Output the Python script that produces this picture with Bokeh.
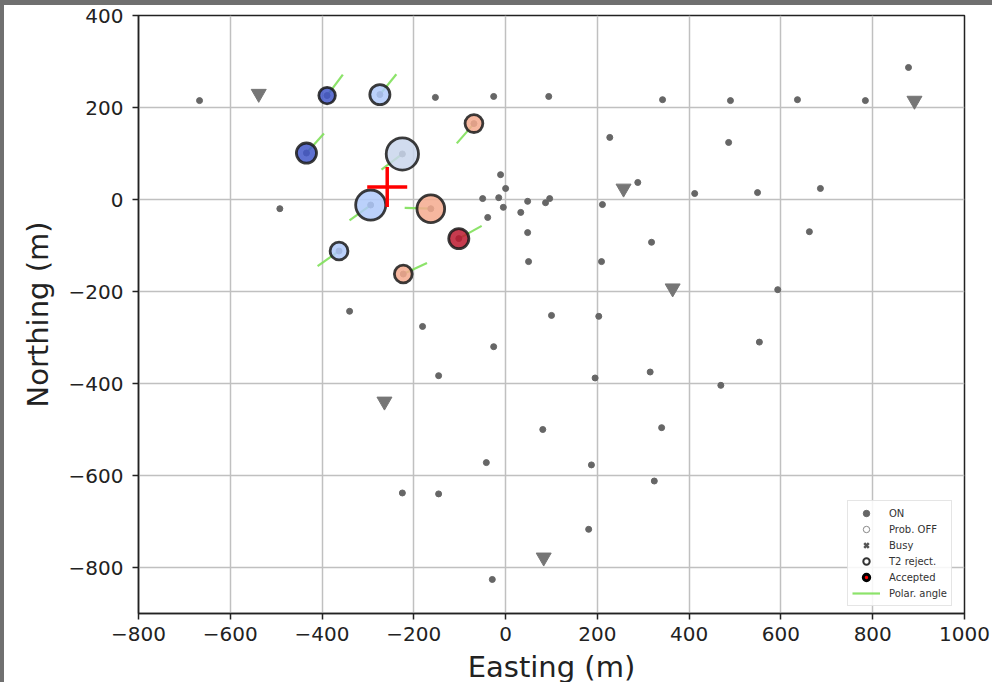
import numpy as np
from bokeh.plotting import figure
from bokeh.models import ColumnDataSource, Legend, LegendItem, LinearColorMapper, FixedTicker
from bokeh.embed import file_html
from bokeh.resources import INLINE

# ---------------------------------------------------------------- data
# detector stations that reported ON (Easting / Northing, metres)
on_east = [-667, -492, -340, -153, -26, 94, 227, 342, 490, 636, 784, 878, 486, 288,
           412, 549, 686, 662, 593, 553, 469, 318, 211, 209, 203, 195, 315, 340, 324,
           187, 181, 81, 100, -42, -29, -146, -225, -146, -181, -26,
           -50, -39, -15, -11, 0, -5, 33, 48, 87, 96, 48, 50]
on_north = [215, -20, -243, 222, 224, 224, 135, 217, 215, 217, 215, 287, 124, 37,
            13, 15, 24, -70, -196, -310, -404, -93, -11, -135, -254, -388, -375, -496, -612,
            -577, -717, -500, -252, -572, -826, -640, -638, -383, -276, -320,
            2, -39, 4, 54, 24, -17, -28, -4, -7, 2, -72, -135]

# busy stations
busy_east = [-538, 257, 364, 891, -264, 83]
busy_north = [230, 24, -193, 215, -439, -778]

# stations used in the event: position, signal, relative timing, polar-angle azimuth
hit_east = [-389, -274, -69, -434, -225, -294, -163, -102, -363, -223]
hit_north = [226, 228, 165, 101, 99, -12, -20, -85, -112, -162]
hit_signal = [7, 10, 8, 10, 24, 21, 18, 10, 8, 8]
hit_timing = [0.03, 0.35, 0.70, 0.03, 0.43, 0.35, 0.70, 0.97, 0.35, 0.70]
hit_azimuth_deg = [53, 51, 229, 48, 217, 216, 178, 29, 215, 25]

# reconstructed core position
core_east = [-258]
core_north = [27]

x_ticks = [-800, -600, -400, -200, 0, 200, 400, 600, 800, 1000]
y_ticks = [-800, -600, -400, -200, 0, 200, 400]

# ---------------------------------------------------------------- styling helpers
def coolwarm(n=256):
    stops = [0.0, 0.125, 0.25, 0.375, 0.5, 0.625, 0.75, 0.875, 1.0]
    rgb = np.array([(0.230, 0.299, 0.754), (0.386, 0.508, 0.917), (0.555, 0.690, 0.996),
                    (0.722, 0.815, 0.977), (0.865, 0.865, 0.865), (0.961, 0.770, 0.673),
                    (0.956, 0.604, 0.486), (0.854, 0.389, 0.305), (0.706, 0.016, 0.150)])
    out = []
    for v in np.linspace(0, 1, n):
        r, g, b = (np.interp(v, stops, rgb[:, k]) for k in range(3))
        out.append("#%02x%02x%02x" % (int(round(r * 255)), int(round(g * 255)), int(round(b * 255))))
    return out

seg_len = 57.0  # metres
az = np.radians(hit_azimuth_deg)
hit_src = ColumnDataSource(dict(
    x=hit_east, y=hit_north, t=hit_timing,
    size=[7.0 * np.sqrt(s) - 2.0 for s in hit_signal],
    x1=[x + seg_len * np.cos(a) for x, a in zip(hit_east, az)],
    y1=[y + seg_len * np.sin(a) for y, a in zip(hit_north, az)],
))
mapper = LinearColorMapper(palette=coolwarm(), low=0.0, high=1.0)

FONT = "DejaVu Sans"

p = figure(width=992, height=682, x_range=(-800, 1000), y_range=(-900, 400),
           output_backend="svg", toolbar_location=None,
           min_border_left=134, min_border_right=32, min_border_top=10, min_border_bottom=74,
           background_fill_color="white", border_fill_color="white",
           styles={"border-top": "5px solid #707070", "border-left": "4px solid #707070"})

p.outline_line_color = "#222222"
p.outline_line_width = 1.5
p.grid.grid_line_color = "#c0c0c0"
p.grid.grid_line_width = 1.5
p.xaxis.ticker = FixedTicker(ticks=x_ticks)
p.yaxis.ticker = FixedTicker(ticks=y_ticks)
p.xaxis.major_label_overrides = {v: str(v).replace("-", "\u2212") for v in x_ticks}
p.yaxis.major_label_overrides = {v: str(v).replace("-", "\u2212") for v in y_ticks}
for ax in (p.xaxis, p.yaxis):
    ax.axis_line_color = "#222222"
    ax.axis_line_width = 1.5
    ax.major_tick_line_color = "#222222"
    ax.major_tick_line_width = 1.5
    ax.major_tick_in = 0
    ax.major_tick_out = 6
    ax.minor_tick_line_color = None
    ax.major_label_text_font = FONT
    ax.major_label_text_font_size = "20px"
    ax.major_label_text_color = "#222222"
    ax.axis_label_text_font = FONT
    ax.axis_label_text_font_size = "29px"
    ax.axis_label_text_font_style = "normal"
    ax.axis_label_text_color = "#222222"
p.xaxis.axis_label = "Easting (m)"
p.yaxis.axis_label = "Northing (m)"
p.xaxis.major_label_standoff = 7
p.yaxis.major_label_standoff = 9
p.xaxis.axis_label_standoff = 6
p.yaxis.axis_label_standoff = 11

# polar-angle direction of each triggered station
r_seg = p.segment("x", "y", "x1", "y1", source=hit_src, line_color="#7fe05a", line_width=2.2, line_alpha=0.9)

# all active stations
r_on = p.scatter(on_east + hit_east, on_north + hit_north, marker="circle", size=6,
                 fill_color="#666666", line_color="#666666")

# busy stations
p.scatter(busy_east, busy_north, marker="inverted_triangle", size=15,
          fill_color="#767676", line_color="#767676")

# triggered stations, sized by signal and coloured by timing
p.scatter("x", "y", source=hit_src, marker="circle", size="size",
          fill_color={"field": "t", "transform": mapper}, fill_alpha=0.85,
          line_color="#1a1a1a", line_width=2.8, line_alpha=0.85)

# reconstructed core
p.scatter(core_east, core_north, marker="cross", size=40, line_color="#ff0000", line_width=3.5)

# legend-only glyph styles (placed far outside the visible window)
def offscreen():
    return ColumnDataSource(dict(x=[-9000], y=[-9000]))

r_off = p.scatter("x", "y", source=offscreen(), marker="circle", size=5,
                  fill_color="white", line_color="#888888", line_width=1)
r_busy = p.scatter("x", "y", source=offscreen(), marker="x", size=7,
                   line_color="#555555", line_width=2.5)
r_rej = p.scatter("x", "y", source=offscreen(), marker="circle", size=8,
                  fill_color="white", line_color="#333333", line_width=2)
r_acc = p.scatter("x", "y", source=offscreen(), marker="circle", size=10,
                  fill_color="#ff0000", line_color="black", line_width=3)

legend = Legend(items=[
    LegendItem(label="ON", renderers=[r_on]),
    LegendItem(label="Prob. OFF", renderers=[r_off]),
    LegendItem(label="Busy", renderers=[r_busy]),
    LegendItem(label="T2 reject.", renderers=[r_rej]),
    LegendItem(label="Accepted", renderers=[r_acc]),
    LegendItem(label="Polar. angle", renderers=[r_seg]),
], location=(709, 7))
legend.label_text_font = FONT
legend.label_text_font_size = "10px"
legend.label_text_color = "#333333"
legend.glyph_width = 28
legend.glyph_height = 16
legend.label_height = 16
legend.label_standoff = 9
legend.spacing = 0
legend.padding = 4
legend.margin = 0
legend.border_line_color = "#cccccc"
legend.border_line_width = 1
legend.background_fill_alpha = 0.85
p.add_layout(legend, "center")

open("out.html", "w").write(file_html(p, INLINE))
